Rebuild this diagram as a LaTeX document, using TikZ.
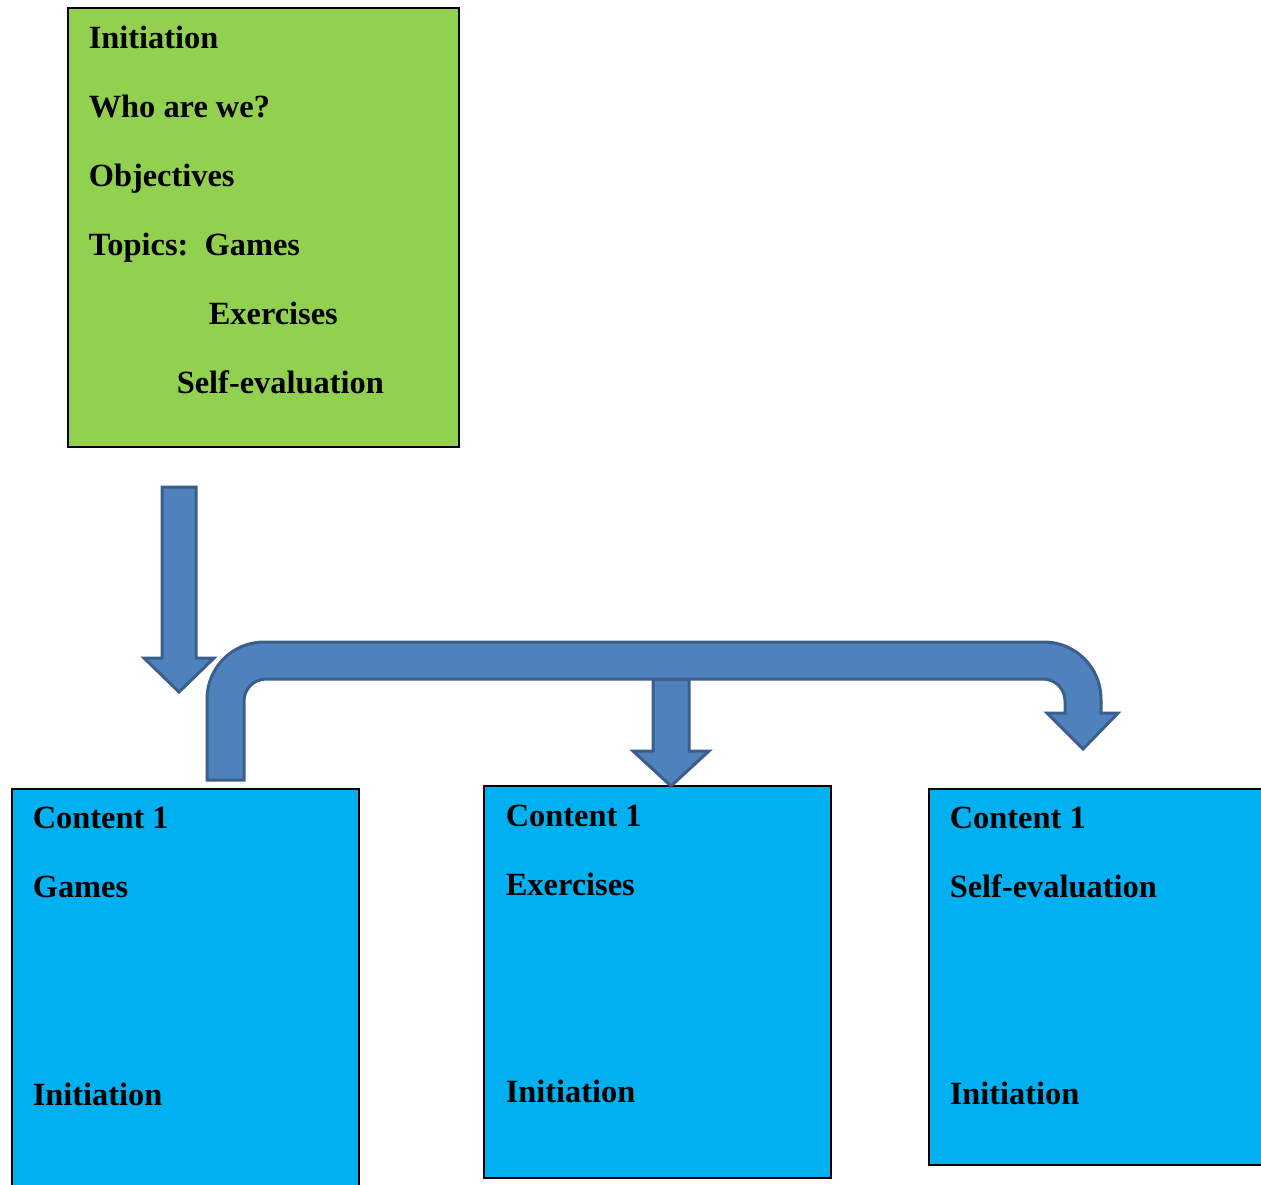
\documentclass[tikz,border=0pt]{standalone}
\usepackage{fontspec}
\setmainfont{Liberation Serif}
\usepackage{xcolor}
\definecolor{boxgreen}{HTML}{92D050}
\definecolor{boxblue}{HTML}{00B0F0}
\definecolor{arrowfill}{HTML}{4F81BD}
\definecolor{arrowline}{HTML}{3A5F8C}

\begin{document}
\begin{tikzpicture}[x=0.5pt,y=-0.5pt,thick,
  topic box/.style={rectangle,draw=black,line width=0.7pt,fill=boxgreen,inner sep=0pt},
  content box/.style={rectangle,draw=black,line width=0.7pt,fill=boxblue,inner sep=0pt},
  item text/.style={anchor=base west,inner sep=0pt,font=\bfseries\fontsize{16.2}{20}\selectfont},
  block arrow/.style={fill=arrowfill,draw=arrowline,line width=1.5pt}]

            \clip (0,0) rectangle (1261,1184);

            % boxes
            \node[topic box, minimum width=195.5pt, minimum height=219.5pt] (intro) at (263.5,227.5) {};
            \node[content box, minimum width=173.5pt, minimum height=200.5pt] (games) at (185.5,989.5) {};
            \node[content box, minimum width=173.5pt, minimum height=196pt] (exercises) at (657.5,982) {};
            \node[content box, minimum width=170.5pt, minimum height=188pt] (selfeval) at (1099.5,977) {};

            % texts of the first box
            \node[item text] (i1) at (88,48) {Initiation};
            \node[item text] (i2) at (88,117) {Who are we?};
            \node[item text] (i3) at (88,186) {Objectives};
            \node[item text] (i4) at (88,255) {Topics:\ \ Games};
            \node[item text] (i5) at (208,324) {Exercises};
            \node[item text] (i6) at (176,393) {Self-evaluation};

            % texts of the content boxes
            \node[item text] (g1) at (32,828) {Content 1};
            \node[item text] (g2) at (32,897) {Games};
            \node[item text] (g3) at (32,1105) {Initiation};

            \node[item text] (e1) at (505,826) {Content 1};
            \node[item text] (e2) at (505,895) {Exercises};
            \node[item text] (e3) at (505,1102) {Initiation};

            \node[item text] (s1) at (949,828) {Content 1};
            \node[item text] (s2) at (949,897) {Self-evaluation};
            \node[item text] (s3) at (949,1104) {Initiation};

            % arrows
            \draw[block arrow] (162,487) -- (196,487) -- (196,658) -- (214,658)
                -- (179,692) -- (144,658) -- (162,658) -- cycle;
            \draw[block arrow] (653,679) -- (689,679) -- (689,751) -- (709,751)
                -- (671,786) -- (633,751) -- (653,751) -- cycle;
            \draw[block arrow] (207,780) [rounded corners=28.5pt] -- (207,642) -- (1101,642)
                [sharp corners] -- (1101,713) -- (1118,713) -- (1083,749) -- (1047,713)
                -- (1065,713) [rounded corners=11pt] -- (1065,679) -- (244,679)
                [sharp corners] -- (244,780) -- cycle;

            ;
        \end{tikzpicture}
\end{document}
